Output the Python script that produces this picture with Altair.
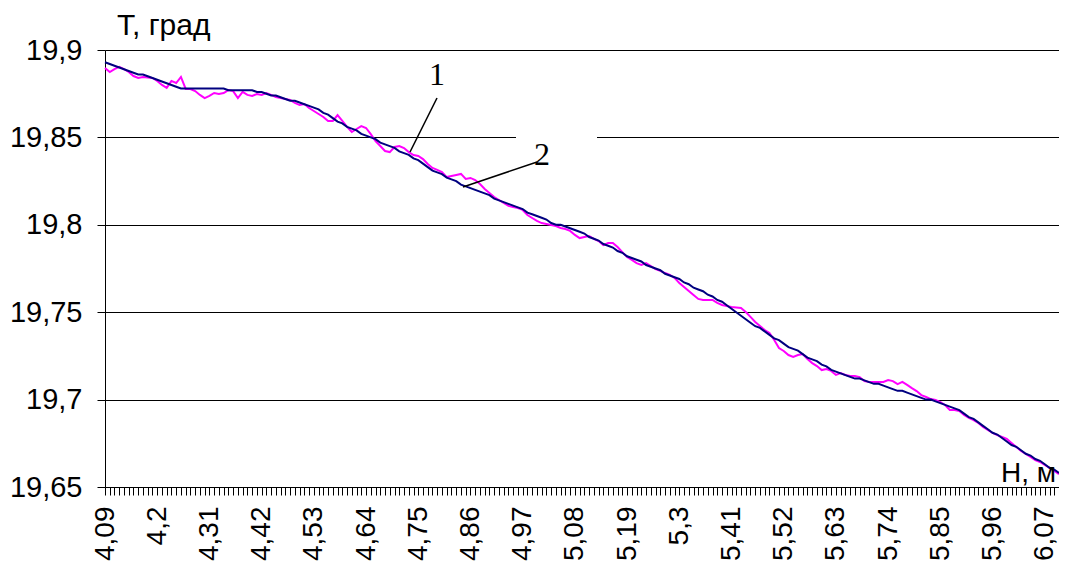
import altair as alt
import pandas as pd

# depth H, m (category axis, step 0.01)
h_values = [round(4.09 + 0.01 * i, 2) for i in range(202)]
label_step = 11

# curve 1 (magenta) - measured temperature
series1 = [
    19.8897, 19.8874, 19.8891, 19.8903, 19.8891, 19.8874, 19.8851, 19.8840, 19.8846, 19.8843,
    19.8840, 19.8823, 19.8800, 19.8783, 19.8823, 19.8811, 19.8846, 19.8777, 19.8777, 19.8765,
    19.8743, 19.8725, 19.8737, 19.8754, 19.8748, 19.8754, 19.8771, 19.8765, 19.8725, 19.8760,
    19.8743, 19.8737, 19.8748, 19.8743, 19.8754, 19.8743, 19.8731, 19.8725, 19.8720, 19.8714,
    19.8697, 19.8685, 19.8691, 19.8668, 19.8651, 19.8634, 19.8617, 19.8594, 19.8594, 19.8628,
    19.8594, 19.8560, 19.8531, 19.8548, 19.8565, 19.8554, 19.8519, 19.8479, 19.8451, 19.8422,
    19.8416, 19.8445, 19.8451, 19.8439, 19.8416, 19.8399, 19.8394, 19.8376, 19.8348, 19.8325,
    19.8314, 19.8302, 19.8273, 19.8279, 19.8285, 19.8291, 19.8262, 19.8268, 19.8256, 19.8233,
    19.8205, 19.8182, 19.8159, 19.8142, 19.8125, 19.8108, 19.8102, 19.8096, 19.8085, 19.8056,
    19.8039, 19.8022, 19.8010, 19.8005, 19.7999, 19.7993, 19.7982, 19.7976, 19.7965, 19.7942,
    19.7924, 19.7930, 19.7936, 19.7919, 19.7907, 19.7884, 19.7896, 19.7896, 19.7873, 19.7844,
    19.7816, 19.7799, 19.7781, 19.7770, 19.7781, 19.7764, 19.7747, 19.7736, 19.7724, 19.7713,
    19.7696, 19.7667, 19.7644, 19.7621, 19.7598, 19.7576, 19.7570, 19.7570, 19.7570, 19.7553,
    19.7541, 19.7535, 19.7530, 19.7527, 19.7524, 19.7501, 19.7473, 19.7444, 19.7421, 19.7398,
    19.7381, 19.7341, 19.7295, 19.7278, 19.7255, 19.7244, 19.7255, 19.7261, 19.7232, 19.7209,
    19.7192, 19.7169, 19.7175, 19.7164, 19.7141, 19.7152, 19.7141, 19.7135, 19.7135, 19.7129,
    19.7106, 19.7101, 19.7101, 19.7101, 19.7101, 19.7112, 19.7106, 19.7089, 19.7101, 19.7084,
    19.7066, 19.7049, 19.7026, 19.7015, 19.7003, 19.6998, 19.6986, 19.6969, 19.6941, 19.6941,
    19.6935, 19.6912, 19.6895, 19.6883, 19.6866, 19.6843, 19.6826, 19.6809, 19.6797, 19.6786,
    19.6775, 19.6752, 19.6729, 19.6706, 19.6689, 19.6672, 19.6654, 19.6643, 19.6626, 19.6609,
    19.6592, 19.6574,
]

# curve 2 (navy) - smoothed temperature
series2 = [
    19.893, 19.892, 19.891, 19.890, 19.889, 19.888, 19.887, 19.886, 19.886, 19.885,
    19.884, 19.883, 19.882, 19.881, 19.880, 19.879, 19.878, 19.878, 19.878, 19.878,
    19.878, 19.878, 19.878, 19.878, 19.878, 19.878, 19.877, 19.877, 19.877, 19.877,
    19.877, 19.877, 19.876, 19.876, 19.875, 19.874, 19.874, 19.873, 19.872, 19.871,
    19.871, 19.870, 19.869, 19.868, 19.867, 19.866, 19.864, 19.863, 19.861, 19.859,
    19.858, 19.856, 19.855, 19.854, 19.852, 19.851, 19.850, 19.849, 19.847, 19.846,
    19.845, 19.844, 19.842, 19.841, 19.840, 19.838, 19.837, 19.835, 19.833, 19.831,
    19.830, 19.829, 19.827, 19.826, 19.825, 19.823, 19.822, 19.821, 19.820, 19.819,
    19.818, 19.817, 19.815, 19.814, 19.813, 19.812, 19.811, 19.810, 19.809, 19.807,
    19.806, 19.805, 19.804, 19.803, 19.801, 19.800, 19.800, 19.799, 19.798, 19.797,
    19.796, 19.795, 19.793, 19.792, 19.791, 19.789, 19.788, 19.787, 19.785, 19.784,
    19.782, 19.781, 19.780, 19.779, 19.777, 19.776, 19.775, 19.774, 19.772, 19.771,
    19.770, 19.769, 19.767, 19.766, 19.764, 19.763, 19.762, 19.760, 19.759, 19.757,
    19.756, 19.754, 19.752, 19.750, 19.748, 19.746, 19.744, 19.742, 19.741, 19.739,
    19.737, 19.735, 19.734, 19.732, 19.730, 19.729, 19.728, 19.726, 19.724, 19.723,
    19.722, 19.720, 19.719, 19.717, 19.716, 19.715, 19.714, 19.713, 19.712, 19.712,
    19.711, 19.710, 19.709, 19.709, 19.708, 19.707, 19.706, 19.705, 19.705, 19.704,
    19.703, 19.702, 19.701, 19.700, 19.700, 19.699, 19.698, 19.697, 19.696, 19.695,
    19.694, 19.692, 19.690, 19.689, 19.687, 19.685, 19.683, 19.681, 19.680, 19.678,
    19.676, 19.674, 19.673, 19.671, 19.669, 19.668, 19.666, 19.665, 19.663, 19.661,
    19.660, 19.658,
]

y_ticks = [19.65, 19.7, 19.75, 19.8, 19.85, 19.9]
series_names = ["1", "2"]
series_colors = ["#FF00FF", "#000080"]

df = pd.DataFrame({
    "H": h_values + h_values,
    "T": series1 + series2,
    "s": ["1"] * len(series1) + ["2"] * len(series2),
})

FONT = "Liberation Sans"
SERIF = "Liberation Serif"

x_scale = alt.Scale(domain=[h_values[0], h_values[-1]], nice=False, zero=False)
y_scale = alt.Scale(domain=[y_ticks[0], y_ticks[-1]], nice=False, zero=False)

x_axis = alt.Axis(
    values=h_values,
    labelExpr=f"(round((datum.value - {h_values[0]}) * 100) % {label_step} == 0) ? replace(format(datum.value, '.2~f'), '.', ',') : ''",
    labelAngle=270, labelFontSize=28, labelFont=FONT, labelColor="black",
    labelPadding=11, tickSize=8, tickColor="black", tickWidth=1,
    domainColor="black", domainWidth=1, grid=False, title=None,
    labelOverlap=False, labelFlush=False, labelBound=False,
)
y_axis = alt.Axis(
    values=y_ticks,
    labelExpr="replace(format(datum.value, '.2~f'), '.', ',')",
    labelFontSize=29, labelFont=FONT, labelColor="black", labelPadding=15,
    tickSize=8, tickColor="black", domainColor="black", domainWidth=1,
    grid=True, gridColor="black", gridWidth=1, title=None,
    labelOverlap=False, labelFlush=False, labelBound=False,
)

lines = alt.Chart(df).mark_line(strokeWidth=2).encode(
    x=alt.X("H:Q", scale=x_scale, axis=x_axis),
    y=alt.Y("T:Q", scale=y_scale, axis=y_axis),
    color=alt.Color("s:N", scale=alt.Scale(domain=series_names, range=series_colors), legend=None),
    order=alt.Order("s:N", sort="descending"),
)

one = pd.DataFrame({"k": [0]})

gap = alt.Chart(one).mark_rule(color="white", strokeWidth=4).encode(
    x=alt.value(411), x2=alt.value(492), y=alt.datum(19.85)
)

lead1 = alt.Chart(one).mark_rule(color="black", strokeWidth=1.5).encode(
    x=alt.value(332), x2=alt.value(305), y=alt.value(48), y2=alt.value(102)
)
lead2 = alt.Chart(one).mark_rule(color="black", strokeWidth=1.5).encode(
    x=alt.value(432), x2=alt.value(358), y=alt.value(112), y2=alt.value(137)
)
lab1 = alt.Chart(one).mark_text(font=SERIF, fontSize=32, color="black", align="center", baseline="alphabetic").encode(
    x=alt.value(332), y=alt.value(35), text=alt.value("1")
)
lab2 = alt.Chart(one).mark_text(font=SERIF, fontSize=32, color="black", align="center", baseline="alphabetic").encode(
    x=alt.value(437), y=alt.value(115), text=alt.value("2")
)
ytitle = alt.Chart(one).mark_text(font=FONT, fontSize=30, color="black", align="left", baseline="alphabetic").encode(
    x=alt.value(12), y=alt.value(-15), text=alt.value("T, град")
)
xtitle = alt.Chart(one).mark_text(font=FONT, fontSize=28, color="black", align="right", baseline="alphabetic").encode(
    x=alt.value(951), y=alt.value(432), text=alt.value("H, м")
)

chart = alt.layer(gap, lines, lead1, lead2, lab1, lab2, ytitle, xtitle).properties(
    width=954, height=437,
    autosize=alt.AutoSizeParams(type="none"),
    padding={"left": 97, "top": 42, "right": 0, "bottom": 74},
    background="white",
).configure_view(stroke=None)

chart.save("out.html", embed_options={"renderer": "svg", "actions": False})
